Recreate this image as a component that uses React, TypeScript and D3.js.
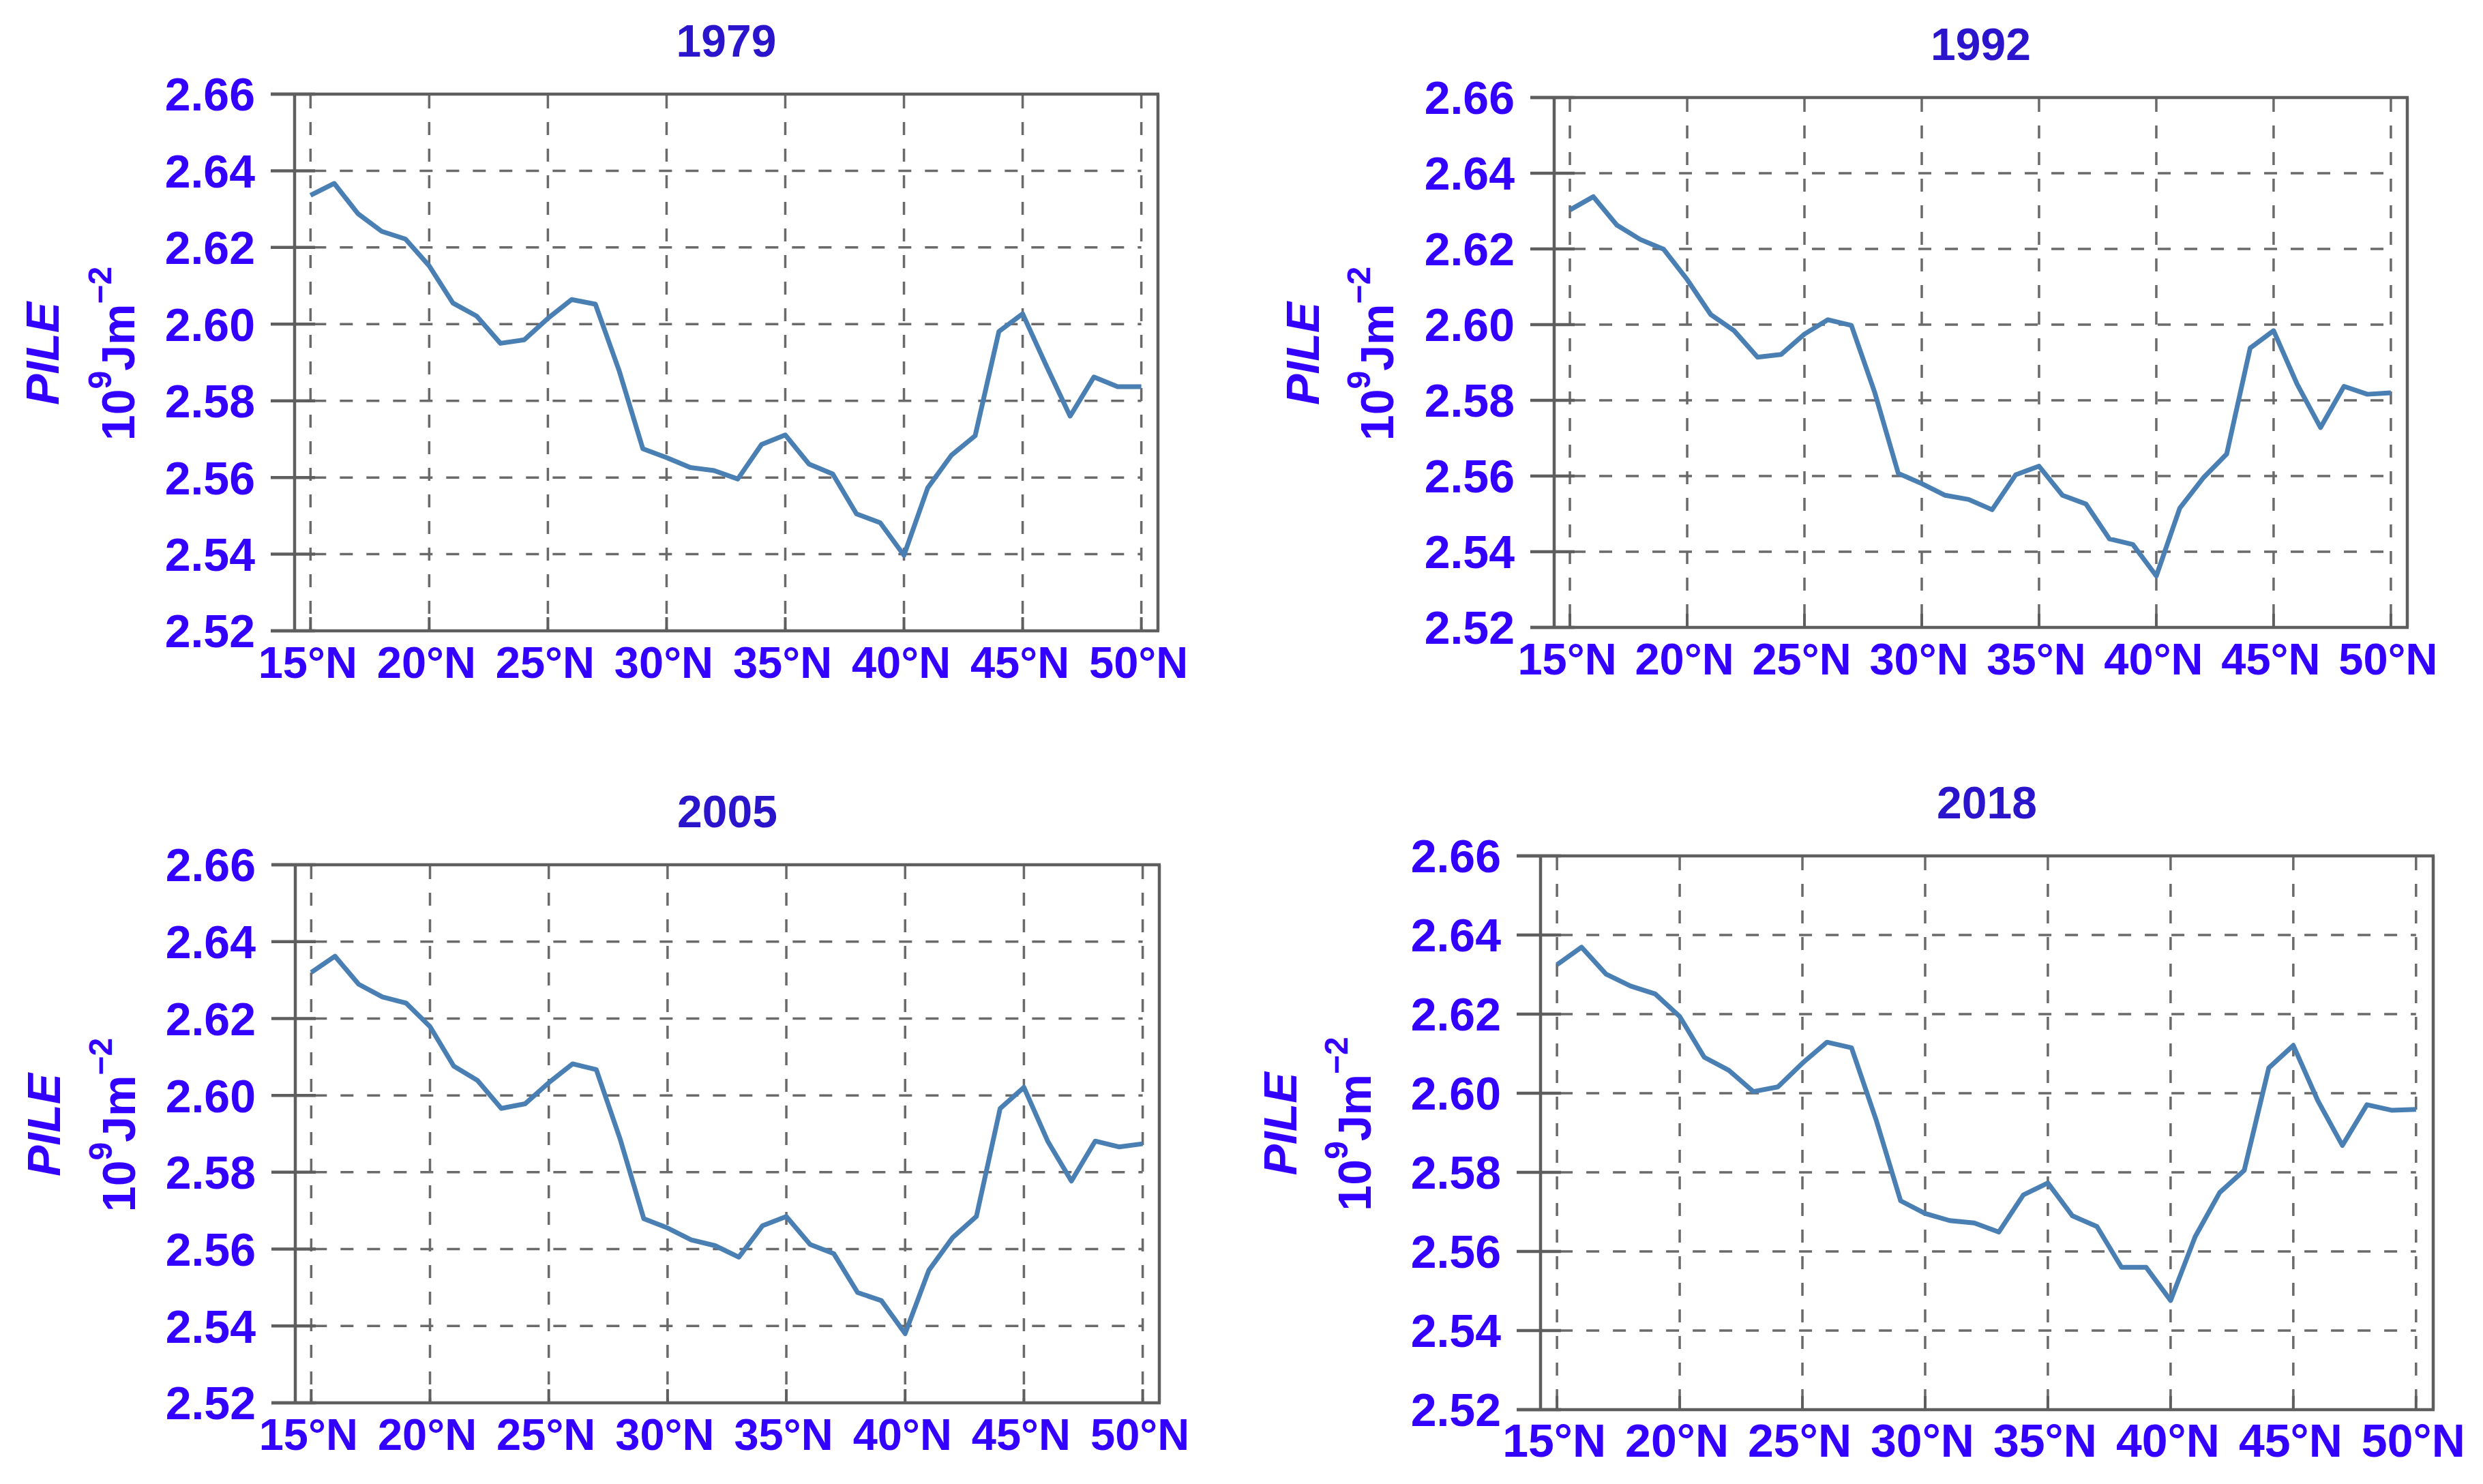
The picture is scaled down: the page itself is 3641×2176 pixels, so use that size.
import React from "react";
import * as d3 from "d3";

const latitudes = [15,16,17,18,19,20,21,22,23,24,25,26,27,28,29,30,31,32,33,34,35,36,37,38,39,40,41,42,43,44,45,46,47,48,49,50];

const pile1979 = [2.6336,2.6367,2.6288,2.6242,2.6222,2.6152,2.6055,2.6021,2.5950,2.5959,2.6015,2.6064,2.6052,2.5879,2.5675,2.5652,2.5626,2.5618,2.5596,2.5686,2.5711,2.5635,2.5609,2.5505,2.5482,2.5397,2.5573,2.5658,2.5709,2.5981,2.6027,2.5891,2.5760,2.5862,2.5837,2.5837];
const pile1992 = [2.6303,2.6338,2.6263,2.6225,2.6199,2.6119,2.6027,2.5984,2.5914,2.5921,2.5975,2.6013,2.5998,2.5820,2.5607,2.5580,2.5549,2.5538,2.5511,2.5603,2.5626,2.5549,2.5526,2.5434,2.5419,2.5336,2.5515,2.5595,2.5658,2.5938,2.5984,2.5843,2.5728,2.5837,2.5816,2.5820];
const pile2005 = [2.6320,2.6362,2.6289,2.6256,2.6240,2.6179,2.6076,2.6039,2.5966,2.5978,2.6033,2.6082,2.6067,2.5887,2.5679,2.5655,2.5624,2.5609,2.5579,2.5661,2.5685,2.5612,2.5588,2.5487,2.5466,2.5380,2.5545,2.5630,2.5685,2.5966,2.6021,2.5881,2.5777,2.5881,2.5866,2.5874];
const pile2018 = [2.6325,2.6369,2.6301,2.6271,2.6251,2.6194,2.6091,2.6058,2.6004,2.6016,2.6076,2.6129,2.6115,2.5933,2.5728,2.5696,2.5678,2.5672,2.5649,2.5743,2.5773,2.5690,2.5663,2.5560,2.5560,2.5476,2.5637,2.5749,2.5805,2.6064,2.6121,2.5981,2.5868,2.5971,2.5957,2.5959];

const years = ["1979", "1992", "2005", "2018"];
const xTicks = [15, 20, 25, 30, 35, 40, 45, 50];
const yTicks = [2.52, 2.54, 2.56, 2.58, 2.60, 2.62, 2.64, 2.66];

const seriesByYear = [pile1979, pile1992, pile2005, pile2018];

const panels = [
  { left: 432, right: 1698, top: 138, bottom: 925, pileOff: -346, unitOff: -235, xFont: 65 },
  { left: 2279, right: 3530, top: 143, bottom: 920, pileOff: -345, unitOff: -236, xFont: 65 },
  { left: 433, right: 1700, top: 1268, bottom: 2057, pileOff: -345, unitOff: -235, xFont: 65 },
  { left: 2259, right: 3568, top: 1255, bottom: 2067, pileOff: -358, unitOff: -249, xFont: 68 },
];

const FONT = "'Liberation Sans', Arial, Helvetica, sans-serif";
const LABEL = "#3300ff";
const TITLE = "#2a14cc";
const FRAME = "#5e5e5e";
const GRID = "#6a6a6a";
const LINE = "#4a7fb3";

function Panel({ idx }: { idx: number }) {
  const p = panels[idx];
  const vals = seriesByYear[idx];
  const x = d3.scaleLinear().domain([14.33, 50.7]).range([p.left, p.right]);
  const y = d3.scaleLinear().domain([2.52, 2.66]).range([p.bottom, p.top]);
  const line = d3
    .line<number>()
    .x((_, i) => x(latitudes[i]))
    .y((d) => y(d));
  const cx = (p.left + p.right) / 2;
  const cy = (p.top + p.bottom) / 2 - 13;
  const x0 = x(15);
  const x1 = x(50);
  return (
    <g>
      <text x={cx} y={p.top - 55} textAnchor="middle" fontFamily={FONT} fontWeight="bold" fontSize={66} fill={TITLE}>
        {years[idx]}
      </text>
      {xTicks.map((t) => (
        <line key={"vg" + t} x1={x(t)} x2={x(t)} y1={p.top + 2} y2={p.bottom} stroke={GRID} strokeWidth={3.5} strokeDasharray="19,20" />
      ))}
      {yTicks.slice(1, -1).map((t) => (
        <line key={"hg" + t} x1={x0} x2={x1} y1={y(t)} y2={y(t)} stroke={GRID} strokeWidth={3.5} strokeDasharray="19,20" strokeDashoffset={-4} />
      ))}
      {xTicks.map((t) => (
        <line key={"xt" + t} x1={x(t)} x2={x(t)} y1={p.bottom} y2={p.bottom - 20} stroke={FRAME} strokeWidth={4} />
      ))}
      {yTicks.map((t) => (
        <line key={"yt" + t} x1={p.left - 35} x2={p.left + 30} y1={y(t)} y2={y(t)} stroke={FRAME} strokeWidth={4.5} />
      ))}
      <line x1={p.left - 35} x2={p.right + 2} y1={p.top} y2={p.top} stroke={FRAME} strokeWidth={4.5} />
      <line x1={p.left - 35} x2={p.right + 2} y1={p.bottom} y2={p.bottom} stroke={FRAME} strokeWidth={4.5} />
      <line x1={p.left} x2={p.left} y1={p.top} y2={p.bottom} stroke={FRAME} strokeWidth={4.5} />
      <line x1={p.right} x2={p.right} y1={p.top} y2={p.bottom} stroke={FRAME} strokeWidth={4.5} />
      <path d={line(vals) || ""} fill="none" stroke={LINE} strokeWidth={7} strokeLinejoin="round" />
      {yTicks.map((t) => (
        <text key={"yl" + t} x={p.left - 58} y={y(t)} dy="0.36em" textAnchor="end" fontFamily={FONT} fontWeight="bold" fontSize={68} fill={LABEL}>
          {t.toFixed(2)}
        </text>
      ))}
      {xTicks.map((t) => (
        <text key={"xl" + t} x={x(t) - 4} y={p.bottom + 69} textAnchor="middle" fontFamily={FONT} fontWeight="bold" fontSize={p.xFont} fill={LABEL}>
          {t + "°N"}
        </text>
      ))}
      <text transform={`translate(${p.left + p.pileOff},${cy}) rotate(-90)`} textAnchor="middle" fontFamily={FONT} fontWeight="bold" fontStyle="italic" fontSize={68} fill={LABEL}>
        PILE
      </text>
      <text transform={`translate(${p.left + p.unitOff},${cy}) rotate(-90)`} textAnchor="middle" fontFamily={FONT} fontWeight="bold" fontSize={68} fill={LABEL}>
        10
        <tspan fontSize={48} dy={-34}>9</tspan>
        <tspan dy={34}>Jm</tspan>
        <tspan fontSize={48} dy={-34}>−2</tspan>
      </text>
    </g>
  );
}

export default function App() {
  return (
    <svg width={3641} height={2176} style={{ position: "absolute", left: 0, top: 0, background: "#fff" }}>
      <rect x={0} y={0} width={3641} height={2176} fill="#fff" />
      {panels.map((_, i) => (
        <Panel key={i} idx={i} />
      ))}
    </svg>
  );
}
